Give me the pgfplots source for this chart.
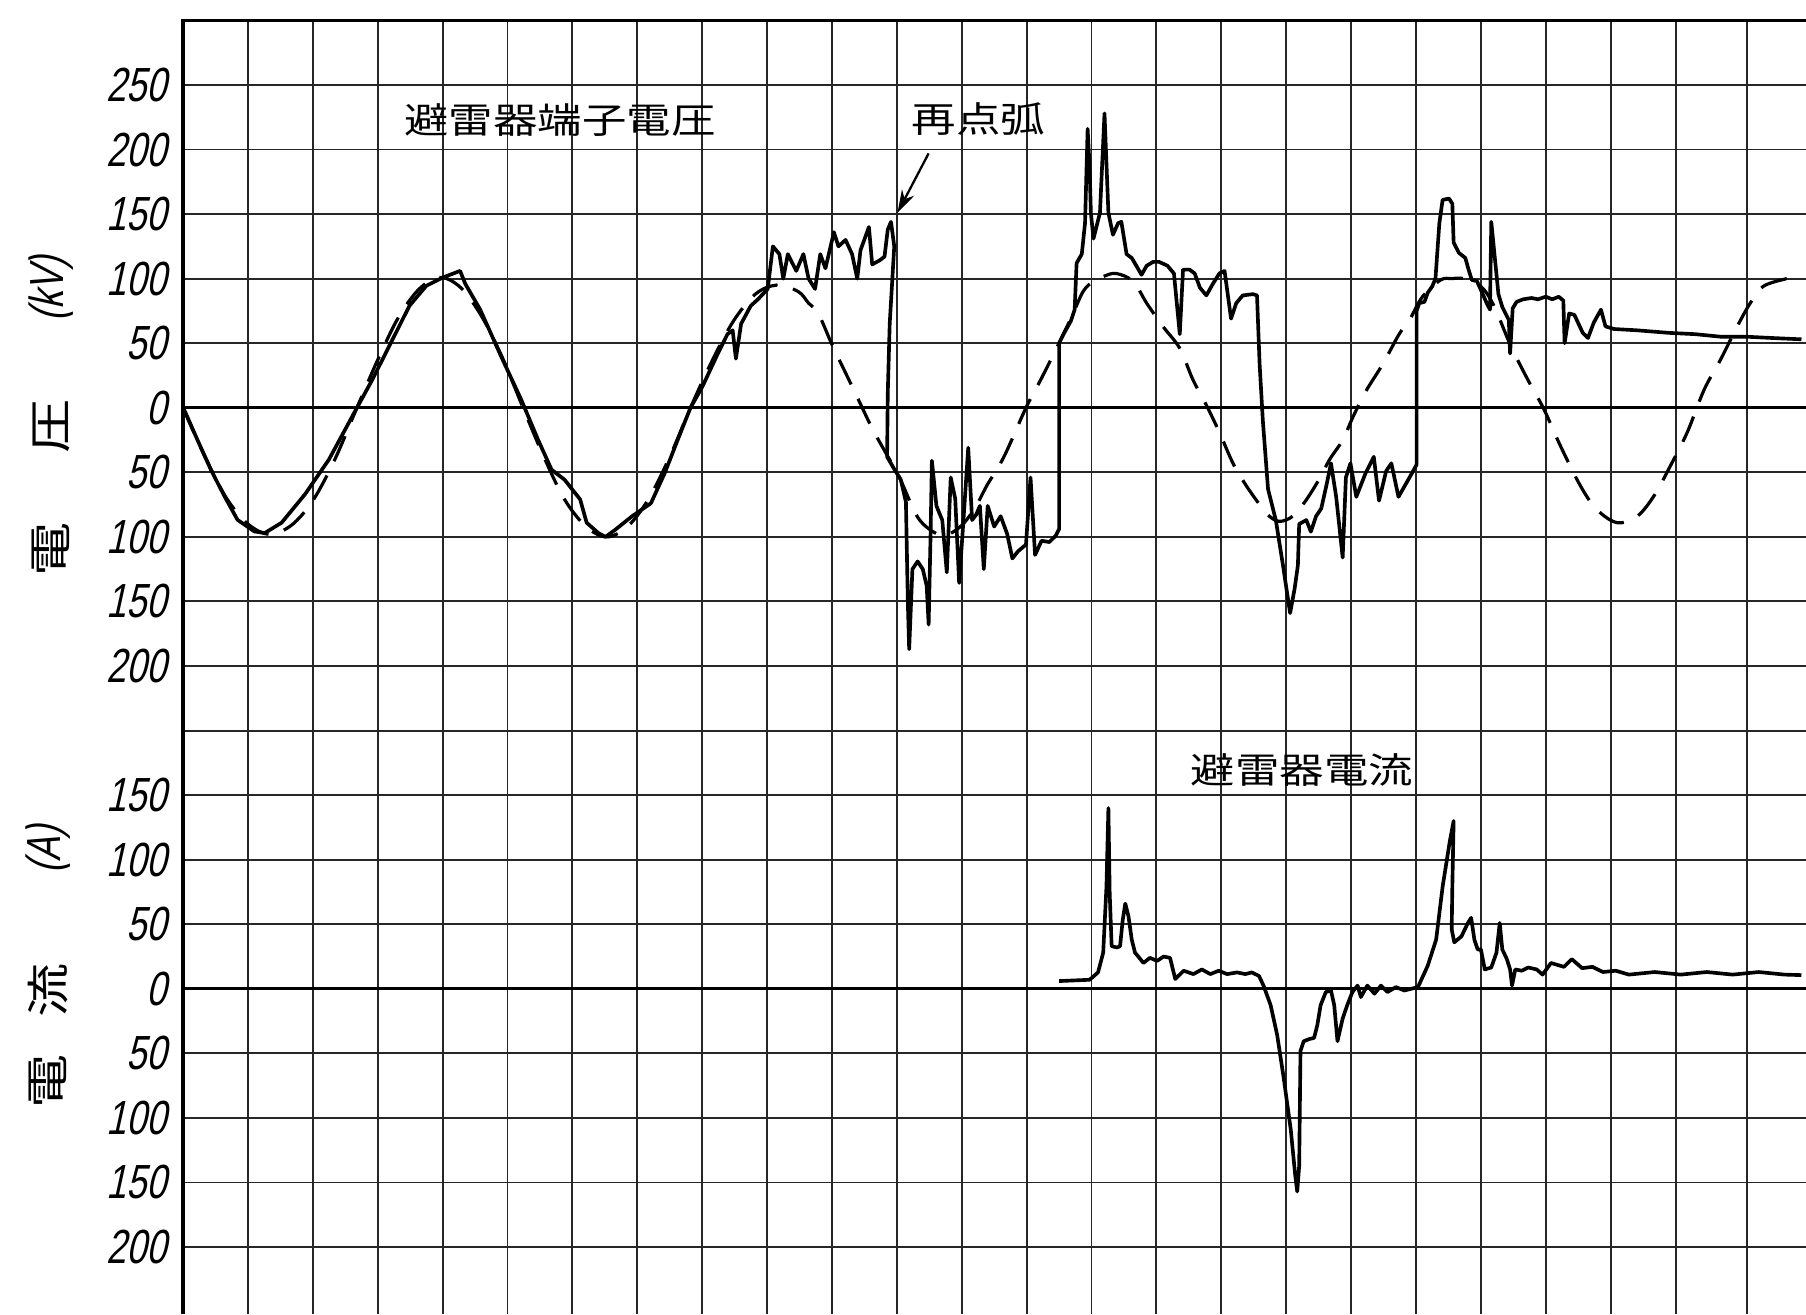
\documentclass[border=0pt]{standalone}
\usepackage{fontspec}
\usepackage{pgfplots}
\pgfplotsset{compat=1.18}
\usepackage{pgfplotstable}
\usetikzlibrary{arrows.meta}
\setmainfont{Liberation Sans}
\newfontfamily\cjk[FakeStretch=1.25]{Noto Sans CJK JP}
\newfontfamily\tickfont[FakeSlant=0.22,FakeStretch=0.75]{Liberation Sans}

% arrester terminal voltage (kV)
\pgfplotstableread{
t v
0 0
0.04 -4
0.22 -24.6
0.43 -48
0.64 -68.6
0.84 -86.8
1.10 -95.8
1.26 -97
1.52 -89
1.88 -67
2.25 -40
2.61 -6.5
2.92 22
3.23 53
3.49 79
3.75 94.5
4.01 101
4.27 106
4.35 96
4.58 76
4.90 40
5.21 6.5
5.47 -24.6
5.68 -48
5.88 -55.7
6.12 -71
6.22 -89
6.40 -97
6.51 -100
6.66 -94.5
6.92 -84
7.21 -74
7.42 -51
7.63 -24
7.82 0
8.00 16
8.23 40.7
8.39 57
8.47 60
8.52 38
8.60 65
8.75 79
8.86 84
9.01 92
9.09 125
9.19 119
9.25 100
9.32 119
9.45 106
9.56 119
9.64 100
9.74 92
9.82 119
9.90 108
10.03 136
10.10 125
10.21 130
10.31 119
10.39 100
10.44 122
10.57 140
10.62 111
10.73 114
10.81 117
10.86 138
10.91 144
10.96 125
10.89 65
10.86 11
10.85 -38
10.96 -47.5
11.06 -55.6
11.14 -73
11.17 -152
11.19 -187
11.24 -125
11.32 -119
11.40 -125
11.46 -138
11.49 -168
11.52 -98
11.54 -41
11.61 -76
11.70 -87
11.77 -127.5
11.83 -54
11.90 -70.5
11.96 -135.7
12.02 -92
12.10 -31
12.16 -87
12.22 -83
12.28 -76
12.34 -125
12.40 -76
12.50 -92
12.60 -84
12.70 -97.7
12.78 -116.7
12.87 -111
12.99 -106
13.06 -54
13.13 -114
13.23 -103
13.35 -104
13.45 -99
13.50 -94
13.50 50
13.58 58
13.68 67
13.74 76
13.77 112
13.85 119
13.90 143
13.94 216
13.97 187
13.99 151
14.03 131
14.13 151
14.20 228
14.26 151
14.33 134
14.41 143
14.46 144
14.54 119
14.62 116
14.69 110
14.77 103
14.85 110
14.95 113
15.04 113
15.17 110
15.27 104
15.36 57
15.41 107
15.51 107
15.59 104
15.67 93
15.77 87
15.87 96
15.97 104
16.05 106
16.15 69
16.23 81
16.33 87
16.49 88
16.55 87
16.59 34
16.64 -10
16.72 -63
16.84 -87
16.95 -122
17.06 -159
17.13 -140
17.18 -122
17.20 -90
17.31 -87
17.38 -96
17.46 -84
17.54 -78
17.62 -60
17.69 -43
17.77 -69
17.87 -116
17.92 -54
17.99 -43
18.08 -69
18.22 -51
18.35 -38
18.43 -72
18.54 -49
18.62 -43
18.73 -69
18.90 -54
19.01 -44
19.01 75
19.05 81
19.13 82
19.18 89
19.25 94
19.30 100
19.36 143
19.41 161
19.51 162
19.56 158
19.58 128
19.66 120
19.76 116
19.81 107
19.86 99
19.94 98
20.02 89
20.09 81
20.14 76
20.16 144
20.27 88
20.33 78
20.43 68
20.45 42
20.49 77
20.55 82
20.65 84
20.78 85
20.88 84
21.00 86
21.10 84
21.20 86
21.27 83
21.29 50
21.36 73
21.44 72
21.57 58
21.65 54
21.74 66
21.85 76
21.92 63
22.05 61
22.40 60
22.90 58
23.30 57
23.70 55
24.10 55
24.50 54
24.94 53
}\tabV

% expected (undisturbed) voltage, dashed
\pgfplotstableread{
t v
0 0
0.33 -37
0.67 -70
1.0 -90
1.33 -98
1.67 -91
2.0 -72
2.34 -40
2.68 0
3.0 37
3.32 70
3.64 92
3.96 101
4.28 93
4.6 71
4.92 39
5.24 0
5.56 -38
5.88 -71
6.21 -92
6.53 -100
6.85 -92
7.17 -71
7.5 -38
7.82 0
8.15 36
8.48 67
8.82 88
9.15 95
9.48 90
9.64 81
9.79 73
10.0 49
10.21 27
10.42 5
10.62 -16
10.83 -35
11.04 -54
11.3 -83
11.5 -94
11.73 -99
11.98 -92
12.2 -78
12.39 -60
12.65 -38
12.99 0
13.22 22
13.43 43
13.69 70
13.87 90
14.03 98
14.2 102
14.38 104
14.64 98
14.85 81
15.1 63
15.36 46
15.56 22
15.77 2
15.97 -19
16.18 -43
16.38 -60
16.59 -75
16.74 -84
16.9 -88
17.1 -84
17.3 -72
17.5 -56
17.67 -40
17.87 -25
18.03 -7
18.23 13
18.49 34
18.74 57
18.9 68
19.1 86
19.38 99
19.55 100
19.74 100
20.0 94
20.2 79
20.46 48
20.72 22
20.97 -1
21.23 -30
21.54 -61
21.79 -79
22.1 -89
22.41 -84
22.67 -68
22.92 -45
23.18 -19
23.44 14
23.69 37
23.95 63
24.15 81
24.35 94
24.71 100
24.94 102
}\tabS

% arrester current (A)
\pgfplotstableread{
t i
13.50 6
13.97 7
14.10 12.7
14.18 28
14.23 79
14.26 140
14.28 74
14.31 33
14.39 32
14.44 33
14.48 53
14.52 66
14.57 56
14.62 38
14.67 28
14.72 25
14.80 20
14.90 24
15.01 21.6
15.11 25
15.21 24
15.29 7.6
15.42 14
15.57 11.4
15.70 15
15.83 11.4
15.96 14
16.09 11.4
16.24 12.7
16.37 11.4
16.47 12.7
16.58 10
16.65 2.5
16.76 -12.7
16.86 -35.6
16.96 -68.6
17.07 -109
17.14 -145
17.17 -157
17.20 -137
17.22 -48
17.27 -40.6
17.35 -39
17.43 -38
17.48 -28
17.53 -12.7
17.61 -2.5
17.69 -1.3
17.74 -12.7
17.79 -40.6
17.87 -23
17.94 -12.7
18.02 -2.5
18.10 2.5
18.15 -6.4
18.25 2.5
18.36 -3.8
18.46 2.5
18.56 -2.5
18.69 1.3
18.82 -1.3
19.03 1.3
19.18 17.8
19.31 38
19.41 79
19.52 114
19.58 130
19.56 79
19.55 46
19.59 36
19.70 40.6
19.80 51
19.85 55
19.90 38
19.95 30.5
20.00 30.5
20.06 15
20.16 16.5
20.24 28
20.29 51
20.33 30.5
20.40 23
20.45 15
20.48 2.5
20.53 15
20.63 14
20.73 16.5
20.86 15
20.95 11
21.08 20
21.28 17
21.40 23
21.56 16
21.72 17
21.88 13
22.08 14
22.28 11
22.68 13
23.08 11
23.48 13
23.88 11
24.28 13
24.68 11
24.94 10.6
}\tabI

\begin{document}
\begin{tikzpicture}
\begin{axis}[
  x=0.5cm, y=0.009954cm,
  xmin=0, xmax=25.01, ymin=-702, ymax=300,
  axis line style={draw=none},
  major tick length=0pt,
  xtick={0,1,2,3,4,5,6,7,8,9,10,11,12,13,14,15,16,17,18,19,20,21,22,23,24.1},
  xticklabel=\empty,
  ytick={-650,-600,-550,-500,-450,-400,-350,-300,-250,-200,-150,-100,-50,0,50,100,150,200,250,300},
  yticklabels={200,150,100,50,0,50,100,150,{},200,150,100,50,0,50,100,150,200,250,{}},
  yticklabel style={font=\tickfont\fontsize{10.5}{12}\selectfont},
  grid=major,
  major grid style={black!85, line width=0.42pt},
  clip=false,
]
\draw[line width=0.75pt] (axis cs:0,-702) -- (axis cs:0,300) -- (axis cs:25.01,300);
\draw[line width=0.75pt] (axis cs:0,0) -- (axis cs:25.01,0);
\draw[line width=0.65pt] (axis cs:0,-450) -- (axis cs:25.01,-450);

\addplot[black, line width=0.7pt, dash pattern=on 6pt off 3.5pt, smooth, tension=0.55] table[x=t,y=v]{\tabS};
\addplot[black, line width=0.8pt, line join=round] table[x=t,y=v]{\tabV};
\addplot[black, line width=0.8pt, line join=round] table[x=t,y expr=\thisrow{i}-450]{\tabI};

\node[font=\cjk\fontsize{7.8}{9}\selectfont] at (axis cs:5.81,223) {避雷器端子電圧};
\node[font=\cjk\fontsize{7.8}{9}\selectfont] at (axis cs:12.26,224) {再点弧};
\node[font=\cjk\fontsize{7.8}{9}\selectfont] at (axis cs:17.24,-280.5) {避雷器電流};
\draw[-{Stealth[length=5pt,width=3pt]}, line width=0.5pt] (axis cs:11.49,197) -- (axis cs:11.01,151);

\node[rotate=90, font=\cjk\fontsize{9.5}{10}\selectfont] at (axis cs:-2.03,-110) {電};
\node[rotate=90, font=\cjk\fontsize{9.5}{10}\selectfont] at (axis cs:-2.03,-14.7) {圧};
\node[rotate=90, font=\tickfont\fontsize{10.5}{12}\selectfont] at (axis cs:-2.03,92) {(kV)};
\node[rotate=90, font=\cjk\fontsize{9.5}{10}\selectfont] at (axis cs:-2.08,-522) {電};
\node[rotate=90, font=\cjk\fontsize{9.5}{10}\selectfont] at (axis cs:-2.08,-451) {流};
\node[rotate=90, font=\tickfont\fontsize{10.5}{12}\selectfont] at (axis cs:-2.08,-342) {(A)};

\coordinate (pgBL) at (axis cs:-2.82,-702);
\coordinate (pgTR) at (axis cs:25.01,315.8);
\end{axis}
\pgfresetboundingbox
\useasboundingbox (pgBL) rectangle (pgTR);
\end{tikzpicture}
\end{document}
